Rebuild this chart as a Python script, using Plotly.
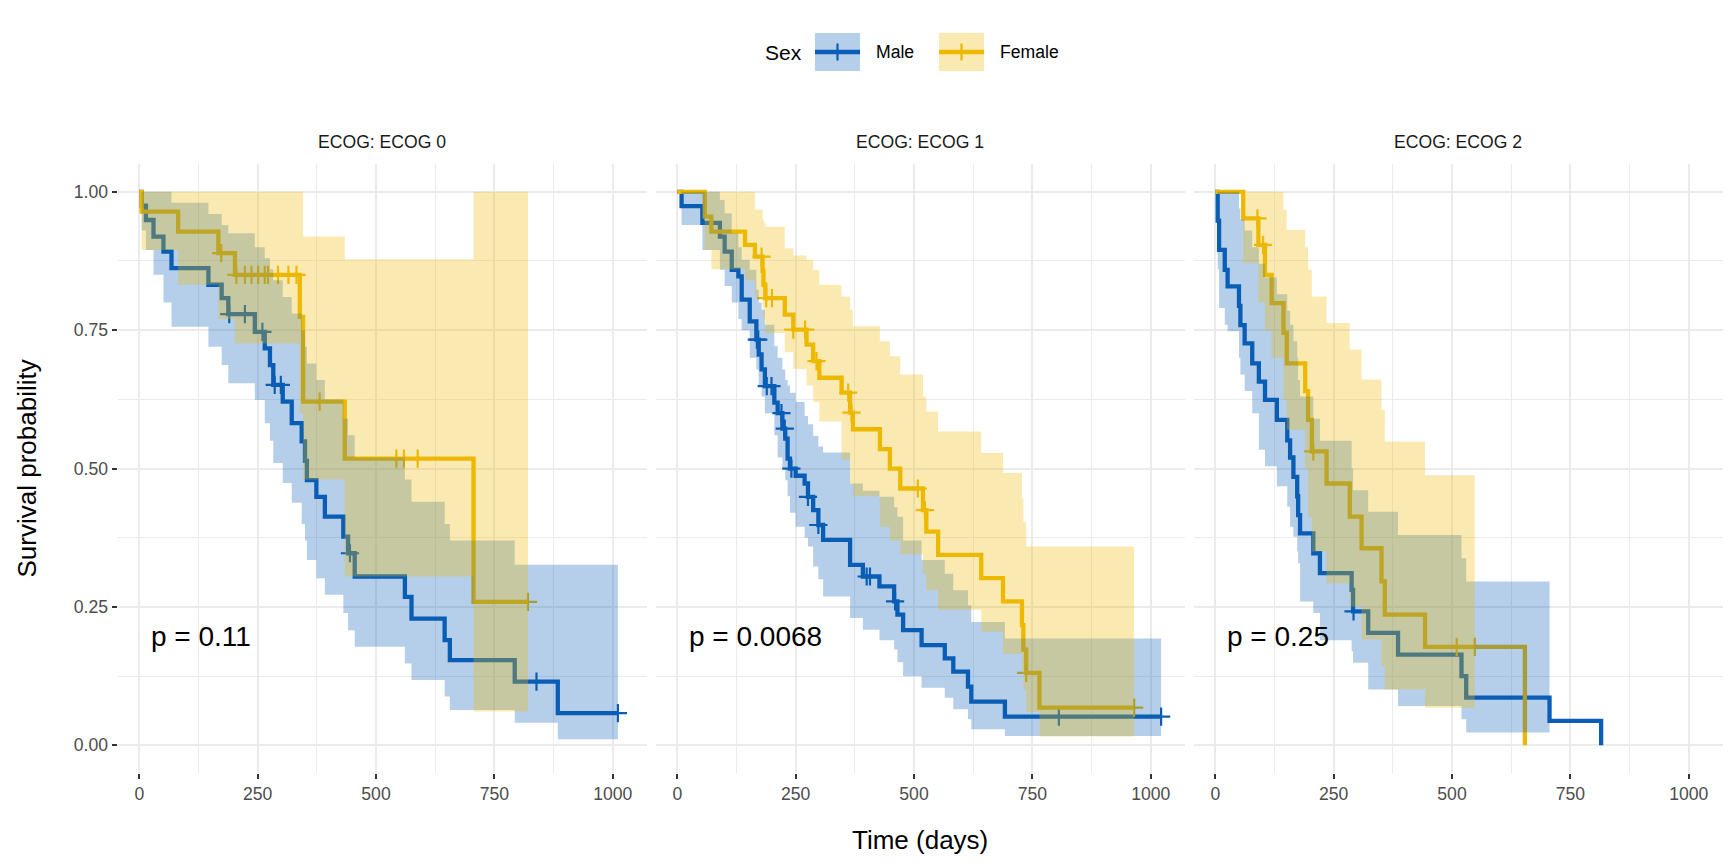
import plotly.graph_objects as go

# ---------------- data ----------------
ecog_levels = ["ECOG 0", "ECOG 1", "ECOG 2"]
p_values = ["p = 0.11", "p = 0.0068", "p = 0.25"]
sex_levels = ["Male", "Female"]
x_ticks = [0, 250, 500, 750, 1000]
y_ticks = [0.0, 0.25, 0.5, 0.75, 1.0]
y_ticktext = ["0.00", "0.25", "0.50", "0.75", "1.00"]

# ECOG 0 - Male
e0m_time = [0, 5, 14, 30, 51, 68, 146, 174, 188, 244, 265, 276, 283, 303, 322, 343, 350, 354, 374, 392, 431, 441, 455, 561, 575, 645, 656, 793, 884]
e0m_surv = [1.0, 0.975, 0.949, 0.919, 0.892, 0.862, 0.832, 0.808, 0.779, 0.747, 0.717, 0.687, 0.651, 0.621, 0.582, 0.549, 0.514, 0.479, 0.449, 0.413, 0.377, 0.347, 0.305, 0.268, 0.229, 0.190, 0.154, 0.115, 0.058]
e0m_low = [1.0, 0.93, 0.895, 0.85, 0.80, 0.756, 0.72, 0.687, 0.654, 0.624, 0.582, 0.55, 0.51, 0.474, 0.438, 0.40, 0.37, 0.335, 0.302, 0.272, 0.239, 0.208, 0.178, 0.148, 0.118, 0.088, 0.064, 0.041, 0.011]
e0m_up = [1.0, 1.0, 1.0, 1.0, 1.0, 0.98, 0.96, 0.94, 0.925, 0.90, 0.88, 0.86, 0.84, 0.81, 0.78, 0.75, 0.72, 0.69, 0.66, 0.625, 0.59, 0.56, 0.52, 0.48, 0.44, 0.40, 0.37, 0.326, 0.326]
e0m_cens = [190, 223, 260, 286, 299, 445, 839, 1011]
e0m_end = 1011

# ECOG 0 - Female
e0f_time = [0, 5, 82, 167, 202, 339, 346, 434, 706]
e0f_surv = [1.0, 0.964, 0.928, 0.889, 0.850, 0.774, 0.621, 0.518, 0.259]
e0f_low = [1.0, 0.895, 0.832, 0.77, 0.726, 0.60, 0.48, 0.305, 0.061]
e0f_up = [1.0, 1.0, 1.0, 1.0, 1.0, 1.0, 0.919, 0.878, 1.0]
e0f_cens = [173, 205, 223, 237, 251, 265, 272, 293, 315, 332, 381, 543, 559, 588, 821]
e0f_end = 821

# ECOG 1 - Male
e1m_time = [0, 9, 53, 90, 100, 115, 129, 136, 153, 167, 172, 178, 185, 205, 212, 222, 228, 233, 238, 250, 269, 276, 287, 298, 308, 365, 392, 427, 458, 465, 477, 516, 565, 583, 614, 621, 692]
e1m_surv = [1.0, 0.974, 0.944, 0.919, 0.892, 0.859, 0.847, 0.805, 0.766, 0.733, 0.706, 0.679, 0.649, 0.619, 0.60, 0.572, 0.554, 0.518, 0.500, 0.487, 0.473, 0.449, 0.425, 0.398, 0.371, 0.326, 0.305, 0.287, 0.260, 0.236, 0.208, 0.181, 0.157, 0.133, 0.106, 0.079, 0.052]
e1m_low = [1.0, 0.94, 0.895, 0.859, 0.83, 0.80, 0.77, 0.75, 0.70, 0.679, 0.65, 0.63, 0.60, 0.56, 0.52, 0.50, 0.479, 0.45, 0.42, 0.395, 0.375, 0.359, 0.323, 0.30, 0.269, 0.23, 0.209, 0.19, 0.173, 0.15, 0.125, 0.104, 0.086, 0.065, 0.047, 0.029, 0.017]
e1m_up = [1.0, 1.0, 1.0, 0.985, 0.961, 0.925, 0.90, 0.877, 0.859, 0.823, 0.80, 0.787, 0.76, 0.721, 0.70, 0.679, 0.66, 0.65, 0.637, 0.62, 0.595, 0.58, 0.559, 0.54, 0.529, 0.473, 0.46, 0.449, 0.43, 0.413, 0.37, 0.335, 0.31, 0.28, 0.253, 0.223, 0.193]
e1m_cens = [168, 171, 189, 199, 220, 227, 241, 276, 298, 400, 407, 460, 806, 1022]
e1m_end = 1022

# ECOG 1 - Female
e1f_time = [0, 58, 72, 143, 164, 180, 182, 186, 227, 245, 273, 287, 300, 347, 365, 371, 428, 449, 471, 519, 526, 551, 642, 688, 728, 731, 737, 765]
e1f_surv = [1.0, 0.955, 0.928, 0.904, 0.883, 0.857, 0.832, 0.808, 0.778, 0.751, 0.724, 0.694, 0.664, 0.637, 0.601, 0.571, 0.535, 0.50, 0.464, 0.425, 0.386, 0.344, 0.302, 0.260, 0.217, 0.173, 0.131, 0.068]
e1f_low = [1.0, 0.895, 0.86, 0.84, 0.81, 0.79, 0.77, 0.745, 0.71, 0.68, 0.65, 0.62, 0.585, 0.516, 0.473, 0.45, 0.395, 0.37, 0.345, 0.31, 0.28, 0.245, 0.205, 0.165, 0.13, 0.10, 0.06, 0.016]
e1f_up = [1.0, 1.0, 1.0, 1.0, 0.968, 0.95, 0.945, 0.937, 0.898, 0.885, 0.877, 0.859, 0.832, 0.811, 0.787, 0.757, 0.73, 0.703, 0.67, 0.63, 0.603, 0.567, 0.528, 0.492, 0.446, 0.404, 0.359, 0.359]
e1f_cens = [178, 188, 200, 245, 270, 294, 361, 368, 508, 523, 737, 965]
e1f_end = 965

# ECOG 2 - Male
e2m_time = [0, 5, 8, 20, 26, 50, 53, 62, 78, 92, 105, 130, 152, 158, 165, 173, 175, 179, 207, 221, 288, 291, 323, 386, 520, 530, 706, 815]
e2m_surv = [1.0, 0.948, 0.895, 0.859, 0.829, 0.794, 0.759, 0.726, 0.690, 0.657, 0.624, 0.588, 0.551, 0.52, 0.485, 0.45, 0.416, 0.383, 0.347, 0.311, 0.281, 0.242, 0.203, 0.164, 0.125, 0.086, 0.044, 0.0]
e2m_low = [1.0, 0.86, 0.79, 0.76, 0.748, 0.70, 0.67, 0.64, 0.60, 0.534, 0.504, 0.468, 0.431, 0.395, 0.377, 0.35, 0.329, 0.26, 0.239, 0.19, 0.17, 0.149, 0.101, 0.071, 0.047, 0.023, 0.023, 0.023]
e2m_up = [1.0, 1.0, 1.0, 1.0, 1.0, 0.97, 0.95, 0.93, 0.90, 0.87, 0.845, 0.815, 0.785, 0.76, 0.73, 0.70, 0.66, 0.63, 0.59, 0.55, 0.50, 0.461, 0.422, 0.38, 0.338, 0.296, 0.296, 0.296]
e2m_cens = [292]
e2m_end = 815
e2m_band_end = 706

# ECOG 2 - Female
e2f_time = [0, 59, 91, 105, 119, 144, 151, 190, 196, 204, 235, 284, 309, 351, 358, 443, 654]
e2f_surv = [1.0, 0.952, 0.904, 0.85, 0.799, 0.745, 0.69, 0.64, 0.588, 0.531, 0.473, 0.413, 0.356, 0.296, 0.236, 0.178, 0.0]
e2f_low = [1.0, 0.871, 0.80, 0.75, 0.70, 0.624, 0.57, 0.50, 0.413, 0.35, 0.293, 0.251, 0.191, 0.143, 0.101, 0.068, 0.068]
e2f_up = [1.0, 1.0, 1.0, 1.0, 1.0, 0.967, 0.931, 0.90, 0.859, 0.811, 0.763, 0.715, 0.661, 0.606, 0.549, 0.488, 0.488]
e2f_cens = [89, 101, 207, 510, 548]
e2f_end = 654
e2f_band_end = 548

# ---------------- styling ----------------
BLUE = (11, 94, 181)
YELLOW = (237, 184, 0)
FONT = "Liberation Sans, Arial, Helvetica, sans-serif"
W, H = 1728, 864


def rgb(c, a=None):
    return f"rgba({c[0]},{c[1]},{c[2]},{a})" if a is not None else f"rgb({c[0]},{c[1]},{c[2]})"


def step_at(T, S, t):
    v = S[0]
    for ti, si in zip(T, S):
        if ti <= t:
            v = si
    return v


def ribbon(T, L, U, end):
    idx = [i for i in range(len(T)) if T[i] < end]
    xu, yu, xl, yl = [], [], [], []
    for k, i in enumerate(idx):
        t1 = T[idx[k + 1]] if k + 1 < len(idx) else end
        xu += [T[i], t1]
        yu += [U[i], U[i]]
        xl += [T[i], t1]
        yl += [L[i], L[i]]
    return xu + xl[::-1], yu + yl[::-1]


groups = [
    [  # ECOG 0
        dict(T=e0m_time, S=e0m_surv, L=e0m_low, U=e0m_up, C=e0m_cens, end=e0m_end, band=e0m_end, col=BLUE),
        dict(T=e0f_time, S=e0f_surv, L=e0f_low, U=e0f_up, C=e0f_cens, end=e0f_end, band=e0f_end, col=YELLOW),
    ],
    [  # ECOG 1
        dict(T=e1m_time, S=e1m_surv, L=e1m_low, U=e1m_up, C=e1m_cens, end=e1m_end, band=e1m_end, col=BLUE),
        dict(T=e1f_time, S=e1f_surv, L=e1f_low, U=e1f_up, C=e1f_cens, end=e1f_end, band=e1f_end, col=YELLOW),
    ],
    [  # ECOG 2
        dict(T=e2m_time, S=e2m_surv, L=e2m_low, U=e2m_up, C=e2m_cens, end=e2m_end, band=e2m_band_end, col=BLUE),
        dict(T=e2f_time, S=e2f_surv, L=e2f_low, U=e2f_up, C=e2f_cens, end=e2f_end, band=e2f_band_end, col=YELLOW),
    ],
]

# panel geometry (pixels)
panel_left = [117.6, 655.6, 1193.6]
panel_w = 529.6
panel_top, panel_bot = 164.1, 773.0
ydom = [1 - panel_bot / H, 1 - panel_top / H]
XR = [-45.85, 1072.85]
YR = [-0.05, 1.05]

fig = go.Figure()
layout_axes = {}
for p in range(3):
    xa = "x" if p == 0 else f"x{p+1}"
    ya = "y" if p == 0 else f"y{p+1}"
    # lines and censor marks first
    for g in groups[p]:
        fig.add_trace(go.Scatter(
            x=g["T"] + [g["end"]], y=g["S"] + [g["S"][-1]],
            mode="lines", line=dict(color=rgb(g["col"]), width=4.3, shape="hv"),
            xaxis=xa, yaxis=ya, showlegend=False, hoverinfo="skip"))
        fig.add_trace(go.Scatter(
            x=g["C"], y=[step_at(g["T"], g["S"], c) for c in g["C"]],
            mode="markers",
            marker=dict(symbol="cross-thin", size=13, line=dict(color=rgb(g["col"]), width=2.2)),
            xaxis=xa, yaxis=ya, showlegend=False, hoverinfo="skip"))
    # confidence ribbons on top
    for g in groups[p]:
        rx, ry = ribbon(g["T"], g["L"], g["U"], g["band"])
        fig.add_trace(go.Scatter(
            x=rx, y=ry, mode="lines", fill="toself", line=dict(width=0, color=rgb(g["col"], 0)),
            fillcolor=rgb(g["col"], 0.3), xaxis=xa, yaxis=ya, showlegend=False, hoverinfo="skip"))

    x0 = panel_left[p] / W
    x1 = (panel_left[p] + panel_w) / W
    key_x = "xaxis" if p == 0 else f"xaxis{p+1}"
    key_y = "yaxis" if p == 0 else f"yaxis{p+1}"
    layout_axes[key_x] = dict(
        domain=[x0, x1], range=XR, anchor=ya, tickvals=x_ticks, ticktext=[str(v) for v in x_ticks],
        showgrid=True, gridcolor="#EBEBEB", gridwidth=2.1, zeroline=False, showline=False,
        ticks="outside", ticklen=5, tickwidth=2, tickcolor="#333333",
        tickfont=dict(size=17.6, color="#4D4D4D", family=FONT),
        minor=dict(tickvals=[125, 375, 625, 875], showgrid=True, gridcolor="#EBEBEB", gridwidth=1.1, ticks=""),
    )
    layout_axes[key_y] = dict(
        domain=ydom, range=YR, anchor=xa, tickvals=y_ticks, ticktext=y_ticktext,
        showticklabels=(p == 0),
        showgrid=True, gridcolor="#EBEBEB", gridwidth=2.1, zeroline=False, showline=False,
        ticks="outside" if p == 0 else "", ticklen=5, tickwidth=2, tickcolor="#333333",
        tickfont=dict(size=17.6, color="#4D4D4D", family=FONT),
        minor=dict(tickvals=[0.125, 0.375, 0.625, 0.875], showgrid=True, gridcolor="#EBEBEB", gridwidth=1.1, ticks=""),
    )

annotations = []
shapes = []
for p in range(3):
    xa = "x" if p == 0 else f"x{p+1}"
    ya = "y" if p == 0 else f"y{p+1}"
    cx = (panel_left[p] + panel_w / 2) / W
    annotations.append(dict(text="ECOG: " + ecog_levels[p], x=cx, y=1 - 142 / H, xref="paper", yref="paper",
                            showarrow=False, xanchor="center", yanchor="middle",
                            font=dict(size=17.6, color="#1A1A1A", family=FONT)))
    annotations.append(dict(text=p_values[p], x=21, y=0.197, xref=xa, yref=ya, showarrow=False,
                            xanchor="left", yanchor="middle", font=dict(size=28, color="black", family=FONT)))

# axis titles
annotations.append(dict(text="Time (days)", x=920 / W, y=1 - 840 / H, xref="paper", yref="paper",
                        showarrow=False, xanchor="center", yanchor="middle",
                        font=dict(size=26, color="black", family=FONT)))
annotations.append(dict(text="Survival probability", x=26 / W, y=1 - 468.5 / H, xref="paper", yref="paper",
                        showarrow=False, xanchor="center", yanchor="middle", textangle=-90,
                        font=dict(size=26, color="black", family=FONT)))

# legend (drawn manually)
annotations.append(dict(text="Sex", x=763 / W, y=1 - 52 / H, xref="paper", yref="paper", showarrow=False,
                        xanchor="left", yanchor="middle", font=dict(size=21, color="black", family=FONT)))
legend_keys = [(815, 860, 874, BLUE, sex_levels[0]), (939, 984, 998, YELLOW, sex_levels[1])]
for kx0, kx1, tx, col, lab in legend_keys:
    ky0, ky1, kyc = 33, 71, 52
    shapes.append(dict(type="rect", xref="paper", yref="paper", x0=kx0 / W, x1=kx1 / W,
                       y0=1 - ky1 / H, y1=1 - ky0 / H, fillcolor=rgb(col, 0.3), line=dict(width=0)))
    shapes.append(dict(type="line", xref="paper", yref="paper", x0=kx0 / W, x1=kx1 / W,
                       y0=1 - kyc / H, y1=1 - kyc / H, line=dict(color=rgb(col), width=4.3)))
    mx = (kx0 + kx1) / 2
    shapes.append(dict(type="line", xref="paper", yref="paper", x0=mx / W, x1=mx / W,
                       y0=1 - (kyc + 8.5) / H, y1=1 - (kyc - 8.5) / H, line=dict(color=rgb(col), width=2.2)))
    annotations.append(dict(text=lab, x=tx / W, y=1 - kyc / H, xref="paper", yref="paper", showarrow=False,
                            xanchor="left", yanchor="middle", font=dict(size=17.6, color="black", family=FONT)))

fig.update_layout(
    width=W, height=H, margin=dict(l=0, r=0, t=0, b=0),
    paper_bgcolor="white", plot_bgcolor="white",
    font=dict(family=FONT),
    showlegend=False,
    annotations=annotations, shapes=shapes,
    **layout_axes,
)

fig.write_html("out.html")
